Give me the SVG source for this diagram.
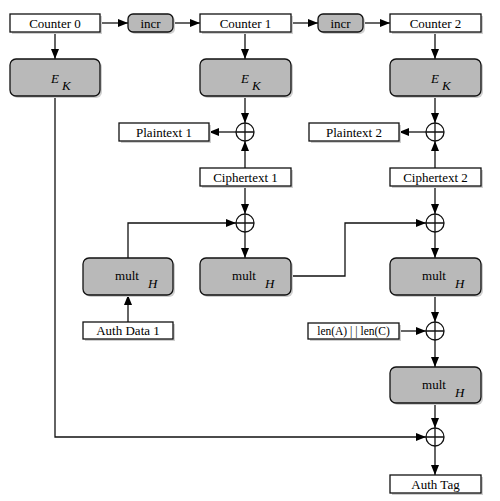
<svg xmlns="http://www.w3.org/2000/svg" width="500" height="501" viewBox="0 0 500 501">
<defs>
<marker id="ah" markerUnits="userSpaceOnUse" markerWidth="10" markerHeight="8" refX="10" refY="4" orient="auto">
<path d="M0,0 L10,4 L0,8 z" fill="#000"/>
</marker>
</defs>
<style>
.box{fill:#fff;stroke:#111;stroke-width:1.3}
.gbox{fill:#b9b9b9;stroke:#111;stroke-width:1.3}
.sh{fill:#cfcfcf;stroke:none}
.t{font-family:"Liberation Serif",serif;font-size:13px;fill:#000;text-anchor:middle}
.i{font-family:"Liberation Serif",serif;font-size:13px;font-style:italic;fill:#000}
.c{fill:none;stroke:#111;stroke-width:1.3}
.x{fill:#fff;stroke:#111;stroke-width:1.3}
</style>
<rect width="500" height="501" fill="#fff"/>
<g id="connectors" class="c">
<path d="M100,23 H128" marker-end="url(#ah)"/>
<path d="M173,23 H200" marker-end="url(#ah)"/>
<path d="M291,23 H318" marker-end="url(#ah)"/>
<path d="M363,23 H390" marker-end="url(#ah)"/>
<path d="M55,32 V59" marker-end="url(#ah)"/>
<path d="M245,32 V59" marker-end="url(#ah)"/>
<path d="M435,32 V59" marker-end="url(#ah)"/>
<path d="M245,96 V123" marker-end="url(#ah)"/>
<path d="M236,132 H209" marker-end="url(#ah)"/>
<path d="M245,168 V141" marker-end="url(#ah)"/>
<path d="M245,186 V214" marker-end="url(#ah)"/>
<path d="M128,258 V223 H236" marker-end="url(#ah)"/>
<path d="M245,232 V258" marker-end="url(#ah)"/>
<path d="M128,322 V295" marker-end="url(#ah)"/>
<path d="M291,276 H345 V223 H426" marker-end="url(#ah)"/>
<path d="M435,96 V123" marker-end="url(#ah)"/>
<path d="M426,132 H399" marker-end="url(#ah)"/>
<path d="M435,168 V141" marker-end="url(#ah)"/>
<path d="M435,186 V214" marker-end="url(#ah)"/>
<path d="M435,232 V258" marker-end="url(#ah)"/>
<path d="M435,295 V322" marker-end="url(#ah)"/>
<path d="M399,331 H426" marker-end="url(#ah)"/>
<path d="M435,340 V367" marker-end="url(#ah)"/>
<path d="M435,403 V428" marker-end="url(#ah)"/>
<path d="M55,96 V437 H426" marker-end="url(#ah)"/>
<path d="M435,446 V475" marker-end="url(#ah)"/>
</g>
<g id="counter0"><rect class="sh" x="12" y="16" width="90" height="18"/><rect class="box" x="10" y="14" width="90" height="18"/><text class="t" x="55" y="27.5">Counter 0</text></g>
<g id="incr1"><rect class="sh" x="130" y="16" width="45" height="18" rx="5"/><rect class="gbox" x="128" y="14" width="45" height="18" rx="5"/><text class="t" x="150.5" y="27.5">incr</text></g>
<g id="counter1"><rect class="sh" x="202" y="16" width="91" height="18"/><rect class="box" x="200" y="14" width="91" height="18"/><text class="t" x="245.5" y="27.5">Counter 1</text></g>
<g id="incr2"><rect class="sh" x="320" y="16" width="45" height="18" rx="5"/><rect class="gbox" x="318" y="14" width="45" height="18" rx="5"/><text class="t" x="340.5" y="27.5">incr</text></g>
<g id="counter2"><rect class="sh" x="392" y="16" width="91" height="18"/><rect class="box" x="390" y="14" width="91" height="18"/><text class="t" x="435.5" y="27.5">Counter 2</text></g>
<g id="ek0"><rect class="sh" x="12" y="61" width="90" height="37" rx="6"/><rect class="gbox" x="10" y="59" width="90" height="37" rx="6"/><text class="i" x="51" y="83">E</text><text class="i" x="62" y="90">K</text></g>
<g id="ek1"><rect class="sh" x="202" y="61" width="91" height="37" rx="6"/><rect class="gbox" x="200" y="59" width="91" height="37" rx="6"/><text class="i" x="241" y="83">E</text><text class="i" x="252" y="90">K</text></g>
<g id="ek2"><rect class="sh" x="392" y="61" width="91" height="37" rx="6"/><rect class="gbox" x="390" y="59" width="91" height="37" rx="6"/><text class="i" x="431" y="83">E</text><text class="i" x="442" y="90">K</text></g>
<g id="xor1"><circle class="x" cx="245" cy="132" r="9"/><path class="c" d="M236,132 H254 M245,123 V141"/></g>
<g id="plaintext1"><rect class="sh" x="121" y="125" width="90" height="18"/><rect class="box" x="119" y="123" width="90" height="18"/><text class="t" x="164" y="136.5">Plaintext 1</text></g>
<g id="ciphertext1"><rect class="sh" x="202" y="170" width="91" height="18"/><rect class="box" x="200" y="168" width="91" height="18"/><text class="t" x="245.5" y="181.5">Ciphertext 1</text></g>
<g id="xor2"><circle class="x" cx="245" cy="223" r="9"/><path class="c" d="M236,223 H254 M245,214 V232"/></g>
<g id="mult0"><rect class="sh" x="85" y="260" width="90" height="37" rx="6"/><rect class="gbox" x="83" y="258" width="90" height="37" rx="6"/><text class="t" x="127" y="280">mult</text><text class="i" x="148" y="288">H</text></g>
<g id="mult1"><rect class="sh" x="202" y="260" width="91" height="37" rx="6"/><rect class="gbox" x="200" y="258" width="91" height="37" rx="6"/><text class="t" x="244" y="280">mult</text><text class="i" x="265" y="288">H</text></g>
<g id="authdata1"><rect class="sh" x="85" y="324" width="90" height="17"/><rect class="box" x="83" y="322" width="90" height="17"/><text class="t" x="128" y="335">Auth Data 1</text></g>
<g id="xor3"><circle class="x" cx="435" cy="132" r="9"/><path class="c" d="M426,132 H444 M435,123 V141"/></g>
<g id="plaintext2"><rect class="sh" x="311" y="125" width="90" height="18"/><rect class="box" x="309" y="123" width="90" height="18"/><text class="t" x="354" y="136.5">Plaintext 2</text></g>
<g id="ciphertext2"><rect class="sh" x="392" y="170" width="91" height="18"/><rect class="box" x="390" y="168" width="91" height="18"/><text class="t" x="435.5" y="181.5">Ciphertext 2</text></g>
<g id="xor4"><circle class="x" cx="435" cy="223" r="9"/><path class="c" d="M426,223 H444 M435,214 V232"/></g>
<g id="mult2"><rect class="sh" x="392" y="260" width="91" height="37" rx="6"/><rect class="gbox" x="390" y="258" width="91" height="37" rx="6"/><text class="t" x="434" y="280">mult</text><text class="i" x="455" y="288">H</text></g>
<g id="len"><rect class="sh" x="310" y="325" width="91" height="16"/><rect class="box" x="308" y="323" width="91" height="16"/><text class="t" x="353.5" y="335" style="font-size:11.5px">len(A) | | len(C)</text></g>
<g id="xor5"><circle class="x" cx="435" cy="331" r="9"/><path class="c" d="M426,331 H444 M435,322 V340"/></g>
<g id="mult3"><rect class="sh" x="392" y="369" width="91" height="36" rx="6"/><rect class="gbox" x="390" y="367" width="91" height="36" rx="6"/><text class="t" x="434" y="389">mult</text><text class="i" x="455" y="397">H</text></g>
<g id="xor6"><circle class="x" cx="435" cy="437" r="9"/><path class="c" d="M426,437 H444 M435,428 V446"/></g>
<g id="authtag"><rect class="sh" x="392" y="477" width="91" height="18"/><rect class="box" x="390" y="475" width="91" height="18"/><text class="t" x="435.5" y="488.5">Auth Tag</text></g>
</svg>
